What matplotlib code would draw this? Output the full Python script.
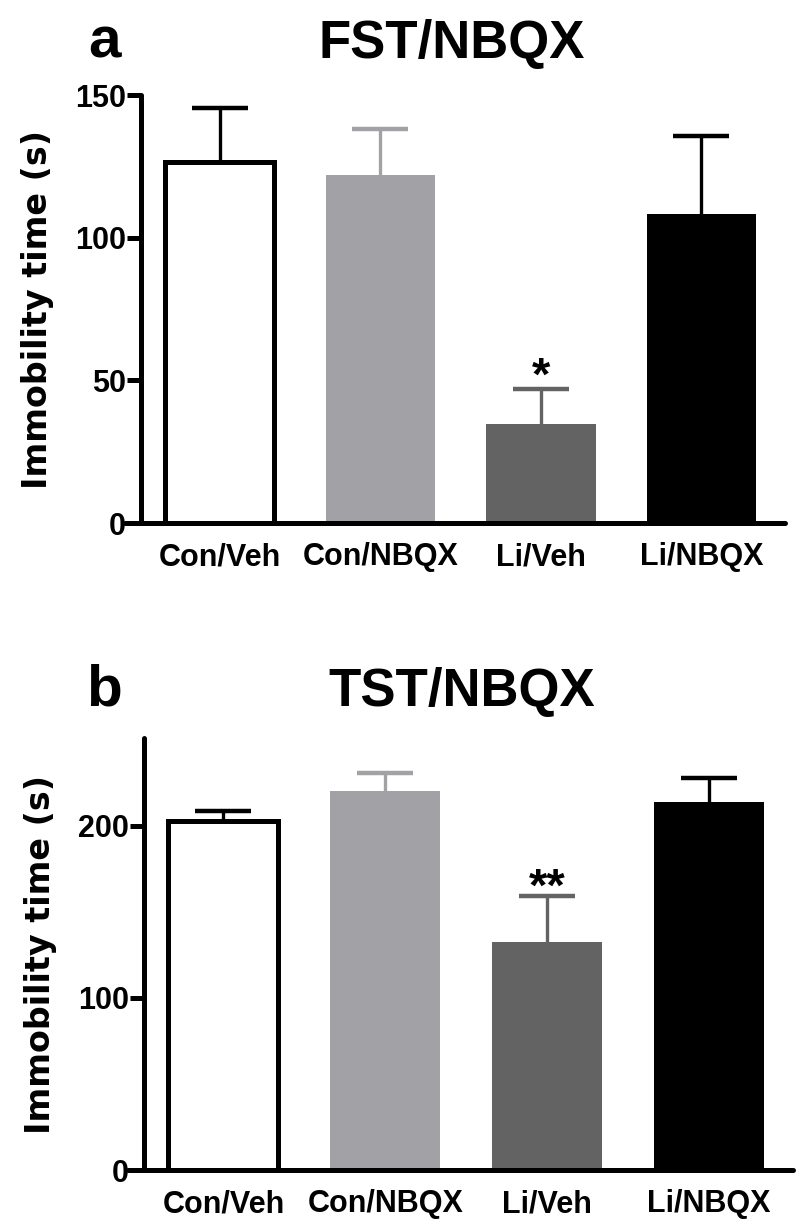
import matplotlib.pyplot as plt

# Dados
grupos = ['Con/Veh', 'Con/NBQX', 'Li/Veh', 'Li/NBQX']
cores = ['white', '#a2a1a6', '#636363', 'black']
cores_erro = ['black', '#a2a1a6', '#636363', 'black']

fst_media = [126.6, 122.0, 34.6, 108.2]
fst_erro = [18.8, 16.0, 12.4, 27.4]

tst_media = [202.5, 220.0, 132.2, 213.8]
tst_erro = [6.2, 10.6, 27.1, 13.9]

fonte = ['Liberation Sans', 'DejaVu Sans']


def painel(ax, media, erro, ymax, ticks, marca, dy_marca):
    x = list(range(len(grupos)))
    for i in x:
        _, caps, _ = ax.errorbar(i, media[i], yerr=[[0], [erro[i]]], fmt='none',
                                 ecolor=cores_erro[i], elinewidth=2.4,
                                 capsize=20, capthick=3.2, zorder=1)
        caps[0].set_visible(False)  # sem o traco inferior
    ax.bar(x, media, width=0.68, color=cores,
           edgecolor=['black', 'none', 'none', 'none'],
           linewidth=3.6, zorder=2)

    # asteriscos de significancia
    ax.annotate(marca, xy=(2, media[2] + erro[2]), xytext=(0, dy_marca),
                textcoords='offset points', ha='center', va='bottom',
                fontsize=34, fontweight='bold', family=fonte)

    ax.set_xlim(-0.59, 3.52)
    ax.set_ylim(0, ymax)
    ax.set_yticks(ticks)
    ax.set_xticks(x)
    ax.set_xticklabels(grupos)

    for s in ['top', 'right']:
        ax.spines[s].set_visible(False)
    ax.spines['left'].set_position(('data', -0.49))
    ax.spines['left'].set_linewidth(3.6)
    ax.spines['bottom'].set_linewidth(3.6)
    ax.spines['left'].set_capstyle('round')
    ax.spines['bottom'].set_capstyle('round')

    ax.tick_params(axis='y', length=10, width=3.6, pad=1)
    ax.tick_params(axis='x', length=0, pad=14)
    for lab in ax.get_xticklabels() + ax.get_yticklabels():
        lab.set_family(fonte)
        lab.set_fontweight('bold')
        lab.set_fontsize(22)

    ax.set_ylabel('Immobility time (s)', fontsize=24, fontweight='bold',
                  family='DejaVu Sans', labelpad=15)


fig = plt.figure(figsize=(8, 12.3), dpi=100)

ax1 = fig.add_axes([125 / 800, 1 - 523 / 1230, 660 / 800, 428 / 1230])
painel(ax1, fst_media, fst_erro, 150, [0, 50, 100, 150], '*', -8)

ax2 = fig.add_axes([128 / 800, 1 - 1170 / 1230, 665 / 800, 432 / 1230])
painel(ax2, tst_media, tst_erro, 251, [0, 100, 200], '**', -11)

# letras dos paineis e titulos
fig.text(88 / 800, 1 - 58 / 1230, 'a', fontsize=42, fontweight='bold',
         family=fonte, va='baseline', ha='left')
fig.text(452 / 800, 1 - 58 / 1230, 'FST/NBQX', fontsize=38, fontweight='bold',
         family=fonte, va='baseline', ha='center')
fig.text(86 / 800, 1 - 706 / 1230, 'b', fontsize=42, fontweight='bold',
         family=fonte, va='baseline', ha='left')
fig.text(462 / 800, 1 - 706 / 1230, 'TST/NBQX', fontsize=38, fontweight='bold',
         family=fonte, va='baseline', ha='center')

plt.savefig('out.png', dpi=100)
